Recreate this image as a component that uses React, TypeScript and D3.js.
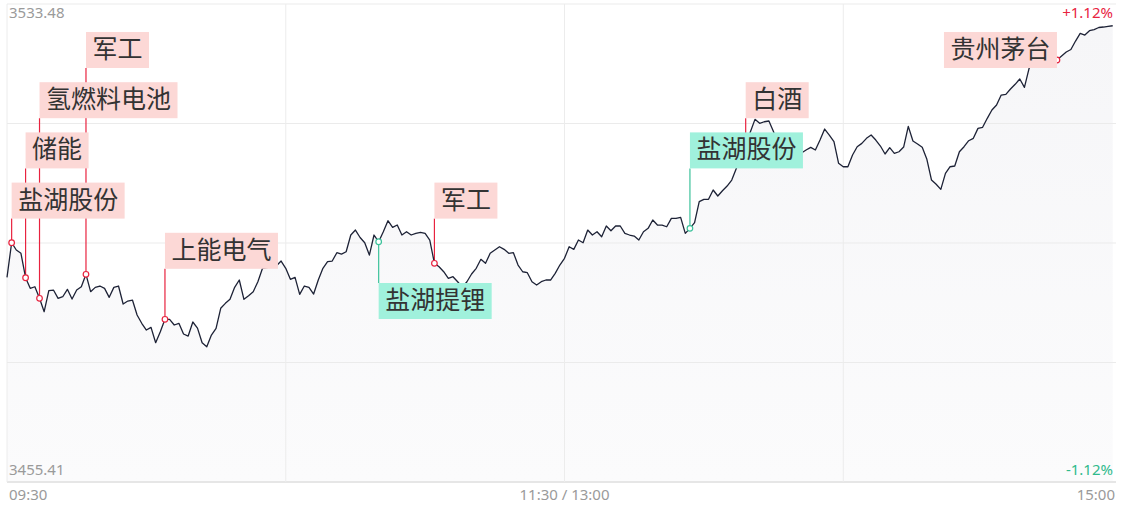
import React from 'react';
import * as d3 from 'd3';

const W = 1124;
const H = 510;

// axis extremes (index points) and percent labels
const Y_MIN = 3455.41;
const Y_MAX = 3533.48;
const priceLabels = ['3533.48', '3455.41'];
const pctLabels = ['+1.12%', '-1.12%'];
const timeLabels = ['09:30', '11:30 / 13:00', '15:00'];
const TOTAL_MINUTES = 240;

// intraday minutes (0 = 09:30, 120 = 11:30/13:00, 240 = 15:00)
const minutes = [
  0, 1, 2, 3, 4, 5, 6, 7, 8, 9, 10, 11, 12, 13, 14, 15, 16, 17, 18, 19,
  20, 21, 22, 23, 24, 25, 26, 27, 28, 29, 30, 31, 32, 33, 34, 35, 36, 37, 38, 39,
  40, 41, 42, 43, 44, 45, 46, 47, 48, 49, 50, 51, 52, 53, 54, 55, 58, 59,
  60, 61, 62, 63, 64, 65, 66, 67, 68, 69, 70, 71, 72, 73, 74, 75, 76, 77, 78, 79,
  80, 81, 82, 83, 84, 85, 86, 87, 88, 89, 90, 91, 92, 93, 94, 95, 96, 97, 98, 99,
  100, 101, 102, 103, 104, 106, 107, 108, 109, 110, 111, 112, 113, 114, 115, 116, 117, 118, 119,
  120, 121, 122, 123, 124, 125, 126, 127, 128, 129, 130, 131, 132, 133, 134, 135, 136, 137, 138, 139,
  140, 141, 142, 143, 144, 145, 146, 147, 148, 149, 150, 151, 152, 153, 154, 155, 156, 157, 158, 159,
  160, 161, 162, 163, 164, 165, 166, 167, 168, 169, 170, 171, 172, 173, 174, 175, 176, 177, 178, 179,
  180, 181, 182, 183, 184, 185, 186, 187, 188, 189, 190, 191, 192, 193, 194, 195, 196, 197, 198, 199,
  200, 201, 202, 203, 204, 205, 206, 207, 208, 209, 210, 211, 212, 213, 214, 215, 216, 217, 218, 219,
  220, 221, 222, 223, 224, 225, 226, 227, 228, 229, 230, 231, 232, 233, 234, 235, 236, 237, 238,
];

const prices = [
  3488.84, 3494.49, 3493.30, 3492.76, 3488.77, 3487.04, 3487.30, 3485.41, 3483.22, 3486.65,
  3486.76, 3485.41, 3485.67, 3486.88, 3485.29, 3486.76, 3487.30, 3489.33, 3486.49, 3487.20,
  3487.42, 3487.04, 3485.57, 3487.20, 3487.42, 3484.48, 3484.97, 3485.13, 3482.68, 3481.33,
  3480.23, 3480.67, 3478.16, 3479.95, 3481.98, 3481.98, 3481.05, 3481.33, 3479.58, 3479.25,
  3481.54, 3480.55, 3478.16, 3477.50, 3479.41, 3480.51, 3483.78, 3484.59, 3485.25, 3487.20,
  3488.40, 3485.25, 3485.83, 3486.49, 3488.12, 3490.31, 3490.73, 3491.50,
  3490.31, 3488.51, 3488.84, 3486.06, 3487.42, 3487.20, 3486.11, 3488.40, 3490.31, 3491.39,
  3491.50, 3492.86, 3492.64, 3493.02, 3495.75, 3496.56, 3495.34, 3494.49, 3492.48, 3495.75,
  3494.65, 3496.29, 3498.08, 3497.00, 3497.38, 3495.75, 3496.29, 3495.75, 3496.02, 3496.19,
  3496.02, 3494.93, 3491.13, 3490.57, 3489.75, 3488.68, 3488.94, 3488.12, 3487.25, 3488.12,
  3489.38, 3490.31, 3491.78, 3491.13, 3492.76, 3493.84, 3493.41, 3492.76, 3492.86, 3490.85,
  3489.75, 3489.59, 3488.12, 3487.58, 3488.12, 3488.40, 3488.40, 3489.49, 3490.85,
  3491.94, 3493.84, 3493.41, 3494.93, 3494.49, 3496.56, 3495.75, 3496.29, 3495.47, 3497.22,
  3496.45, 3497.22, 3497.22, 3496.02, 3495.75, 3495.58, 3494.93, 3496.29, 3496.84, 3498.20,
  3497.38, 3497.38, 3497.10, 3498.47, 3498.47, 3498.64, 3496.02, 3496.84, 3497.76, 3501.19,
  3501.58, 3501.58, 3503.10, 3502.12, 3502.98, 3503.75, 3504.73, 3506.64, 3508.32, 3510.28,
  3512.57, 3514.64, 3513.99, 3514.25, 3514.37, 3512.62, 3510.45, 3509.63, 3508.81, 3509.30,
  3508.49, 3509.14, 3509.63, 3510.07, 3509.63, 3511.26, 3513.06, 3512.08, 3510.99, 3507.46,
  3506.90, 3506.90, 3508.81, 3510.17, 3510.72, 3511.54, 3512.08, 3511.26, 3510.28, 3508.98,
  3510.01, 3509.09, 3509.35, 3510.12, 3513.50, 3511.10, 3510.61, 3510.07, 3508.11, 3504.73,
  3504.03, 3503.21, 3505.82, 3506.90, 3507.02, 3509.35, 3510.17, 3511.15, 3511.54, 3513.17,
  3513.34, 3514.81, 3516.16, 3516.98, 3518.61, 3518.73, 3519.59, 3520.36, 3521.23, 3519.87,
  3522.97, 3524.00, 3524.66, 3524.17, 3524.98, 3524.33, 3524.33, 3524.98, 3525.64, 3526.05,
  3527.43, 3528.69, 3528.41, 3529.12, 3529.31, 3529.64, 3529.72, 3529.83, 3529.93,
];

// news / sector events
const eventNames = ['盐湖股份', '储能', '氢燃料电池', '军工', '上能电气', '盐湖提锂', '军工', '盐湖股份', '白酒', '贵州茅台'];
const eventMinutes = [1, 4, 7, 17, 34, 80, 92, 147, 159, 226];
const eventKinds = ['up', 'up', 'up', 'up', 'up', 'down', 'up', 'down', 'up', 'up'];
// layout only: stacking level of each tag and side of the stem
const eventLevels = [3, 2, 1, 0, 4, 5, 3, 2, 1, 0];
const eventSides = ['right', 'right', 'right', 'right', 'right', 'right', 'right', 'right', 'right', 'left'];

const RED = '#e8233f';
const GREEN = '#3cc29b';
const RED_BOX = '#fcd8d6';
const GREEN_BOX = '#a0f1dc';

const PLOT_L = 7;
const PLOT_R = 1116;
const PLOT_T = 4;
const PLOT_B = 482;

export default function App() {
  const x = d3.scaleLinear().domain([0, TOTAL_MINUTES]).range([PLOT_L, 1122]);
  const y = d3.scaleLinear().domain([Y_MIN, Y_MAX]).range([PLOT_B, PLOT_T]);

  const data = minutes.map((m, i) => ({ m, p: prices[i] }));
  const line = d3.line<{ m: number; p: number }>().x(d => x(d.m)).y(d => y(d.p));
  const area = d3.area<{ m: number; p: number }>().x(d => x(d.m)).y0(PLOT_B).y1(d => y(d.p));

  const hTicks = d3.range(5).map(k => Y_MIN + (k * (Y_MAX - Y_MIN)) / 4);
  const vTicks = [0, 60, 120, 180];

  const FS = 25;
  const PAD = 6.5;
  const BOX_H = 36;
  const levelTop = (lv: number) => 32 + lv * 50.2;

  const events = eventNames.map((name, i) => {
    const m = eventMinutes[i];
    const idx = minutes.indexOf(m);
    const mx = x(m);
    const my = y(prices[idx]);
    const w = name.length * FS + PAD * 2;
    const top = levelTop(eventLevels[i]);
    const left = eventSides[i] === 'left' ? mx - w : mx;
    const up = eventKinds[i] === 'up';
    let stem: [number, number] | null = null;
    if (my >= top + BOX_H) stem = [top + BOX_H, my];
    else if (my <= top) stem = [my, top];
    return { name, mx, my, w, top, left, up, stem };
  });

  const numFont = '"Noto Sans", "DejaVu Sans", sans-serif';
  const cjkFont = '"Noto Sans CJK SC", "Noto Sans", sans-serif';

  return (
    <div style={{ position: 'absolute', left: 0, top: 0 }}>
      <svg width={W} height={H} style={{ display: 'block', background: '#fff' }}>
        <defs>
          <linearGradient id="areaFill" x1="0" y1="0" x2="0" y2="1">
            <stop offset="0%" stopColor="#f6f6f8" />
            <stop offset="100%" stopColor="#fbfbfc" />
          </linearGradient>
        </defs>
        {/* area under the line */}
        <path d={area(data) || ''} fill="url(#areaFill)" />
        {/* grid */}
        {hTicks.map((v, i) => (
          <line key={'h' + i} x1={PLOT_L} x2={PLOT_R} y1={y(v)} y2={y(v)}
            stroke={i === 0 ? '#e6e6e6' : '#ebebeb'} strokeWidth={i === 0 ? 2 : 1} />
        ))}
        {vTicks.map((m, i) => (
          <line key={'v' + i} x1={x(m)} x2={x(m)} y1={PLOT_T} y2={PLOT_B} stroke="#ececec" strokeWidth={1} />
        ))}
        {/* axis texts */}
        <text x={9} y={18} fontFamily={numFont} fontSize={15} fill="#9a9a9a">{priceLabels[0]}</text>
        <text x={9} y={475} fontFamily={numFont} fontSize={15} fill="#9a9a9a">{priceLabels[1]}</text>
        <text x={1113} y={18} textAnchor="end" fontFamily={numFont} fontSize={15} fill={RED}>{pctLabels[0]}</text>
        <text x={1113} y={475} textAnchor="end" fontFamily={numFont} fontSize={15} fill="#2fba8c">{pctLabels[1]}</text>
        <text x={9} y={500} fontFamily={numFont} fontSize={15} fill="#9a9a9a">{timeLabels[0]}</text>
        <text x={x(120)} y={500} textAnchor="middle" fontFamily={numFont} fontSize={15} fill="#9a9a9a">{timeLabels[1]}</text>
        <text x={1115} y={500} textAnchor="end" fontFamily={numFont} fontSize={15} fill="#9a9a9a">{timeLabels[2]}</text>
        {/* stems */}
        {events.map((e, i) => e.stem && (
          <line key={'s' + i} x1={e.mx} x2={e.mx} y1={e.stem[0]} y2={e.stem[1]}
            stroke={e.up ? RED : GREEN} strokeWidth={1.2} />
        ))}
        {/* price line */}
        <path d={line(data) || ''} fill="none" stroke="#1d2236" strokeWidth={1.3} strokeLinejoin="round" />
        {/* markers */}
        {events.map((e, i) => (
          <circle key={'c' + i} cx={e.mx} cy={e.my} r={2.8} fill="#fff" stroke={e.up ? RED : GREEN} strokeWidth={1.2} />
        ))}
        {/* tags */}
        {events.map((e, i) => (
          <g key={'t' + i}>
            <rect x={e.left} y={e.top} width={e.w} height={BOX_H} fill={e.up ? RED_BOX : GREEN_BOX} />
            <text x={e.left + PAD} y={e.top + 26} fontFamily={cjkFont} fontSize={FS} fill="#333">{e.name}</text>
          </g>
        ))}
      </svg>
    </div>
  );
}
